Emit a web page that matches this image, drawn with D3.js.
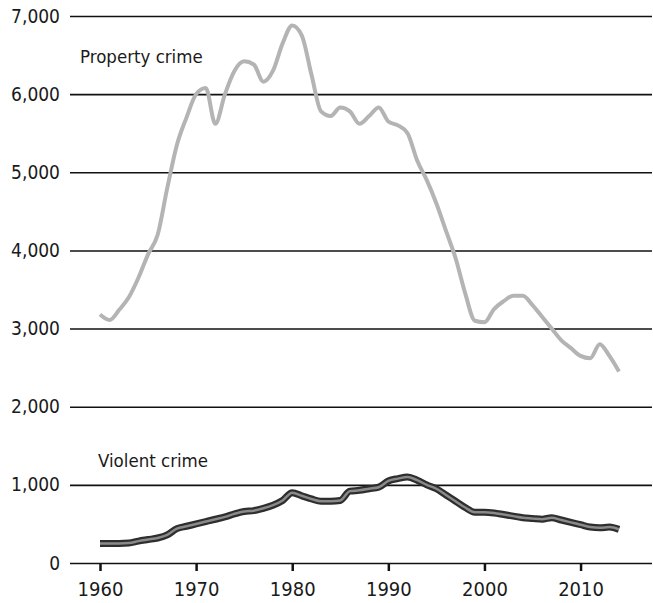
<!DOCTYPE html>
<html>
<head>
<meta charset="utf-8">
<script src="https://cdn.jsdelivr.net/npm/d3@7"></script>
<style>
  body { margin: 0; background: #fff; }
  text { font-family: "Liberation Sans Narrow", "DejaVu Sans Condensed", "Roboto", sans-serif; fill: #1a1a1a; }
</style>
</head>
<body>
<div id="chart"></div>
<script>
// Data, one value per year from 1960
var years = d3.range(1960, 2015);

var propertyCrime = [
  3180, 3110, 3240, 3400, 3650, 3950, 4200, 4800, 5350, 5700,
  6000, 6080, 5620, 6000, 6300, 6420, 6380, 6160, 6300, 6650,
  6880, 6750, 6250, 5780, 5720, 5830, 5780, 5620, 5720, 5830,
  5650, 5600, 5500, 5150, 4900, 4600, 4250, 3900, 3450, 3100,
  3080, 3250, 3350, 3420, 3420, 3300, 3150, 3000, 2850, 2750,
  2650, 2620, 2800, 2650, 2450
];

var violentCrime = [
  250, 250, 250, 255, 280, 300, 320, 360, 440, 470,
  500, 530, 560, 590, 630, 660, 670, 700, 740, 800,
  900, 860, 820, 790, 790, 800, 920, 930, 950, 970,
  1050, 1080, 1100, 1060, 1000, 950, 870, 790, 710, 650,
  650, 640, 620, 600, 580, 570, 560, 580, 550, 520,
  490, 460, 450, 460, 430
];

var yTicks = [0, 1000, 2000, 3000, 4000, 5000, 6000, 7000];
var xTicks = [1960, 1970, 1980, 1990, 2000, 2010];

// Chart setup
var width = 653;
var height = 603;

var svg = d3.select("#chart")
  .append("svg")
  .attr("width", width)
  .attr("height", height);

var x = d3.scaleLinear()
  .domain([1960, 2014])
  .range([100, 619]);

var y = d3.scaleLinear()
  .domain([0, 7000])
  .range([563, 16]);

// Horizontal gridlines with left labels
var yAxis = d3.axisLeft(y)
  .tickValues(yTicks)
  .tickSize(-(652 - 70))
  .tickPadding(10)
  .tickFormat(d3.format(","));

svg.append("g")
  .attr("class", "yAxis")
  .attr("transform", "translate(70,0)")
  .call(yAxis)
  .call(function(g) {
    g.select(".domain").remove();
    g.selectAll("line").attr("stroke", "#111").attr("stroke-width", 1.6);
    g.selectAll("text")
      .attr("font-size", 19)
      .attr("x", -10)
      .style("font-family", "'Liberation Sans Narrow', 'DejaVu Sans Condensed', sans-serif")
      .attr("fill", "#1a1a1a");
  });

// Year ticks below the zero line
var xAxis = d3.axisBottom(x)
  .tickValues(xTicks)
  .tickSize(8)
  .tickPadding(11)
  .tickFormat(d3.format("d"));

svg.append("g")
  .attr("class", "xAxis")
  .attr("transform", "translate(0," + y(0) + ")")
  .call(xAxis)
  .call(function(g) {
    g.select(".domain").remove();
    g.selectAll("line").attr("stroke", "#111").attr("stroke-width", 2.5);
    g.selectAll("text")
      .attr("font-size", 20)
      .style("font-family", "'Liberation Sans Narrow', 'DejaVu Sans Condensed', sans-serif")
      .attr("fill", "#1a1a1a");
  });

// Lines
var line = d3.line()
  .x(function(d, i) { return x(years[i]); })
  .y(function(d) { return y(d); })
  .curve(d3.curveMonotoneX);

svg.append("path")
  .datum(propertyCrime)
  .attr("fill", "none")
  .attr("stroke", "#b4b4b4")
  .attr("stroke-width", 4)
  .attr("stroke-linejoin", "round")
  .attr("d", line);

svg.append("path")
  .datum(violentCrime)
  .attr("fill", "none")
  .attr("stroke", "#2e2e2e")
  .attr("stroke-width", 7)
  .attr("stroke-linejoin", "round")
  .attr("d", line);

svg.append("path")
  .datum(violentCrime)
  .attr("fill", "none")
  .attr("stroke", "#8a8a8a")
  .attr("stroke-width", 2.5)
  .attr("stroke-linejoin", "round")
  .attr("d", line);

// Series labels
svg.append("text")
  .attr("x", 80)
  .attr("y", 63)
  .attr("font-size", 18.5)
  .text("Property crime");

svg.append("text")
  .attr("x", 98)
  .attr("y", 467)
  .attr("font-size", 18.5)
  .text("Violent crime");
</script>
</body>
</html>
